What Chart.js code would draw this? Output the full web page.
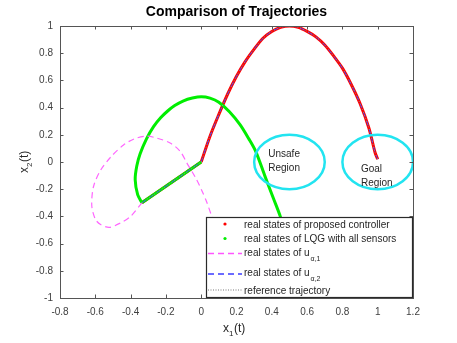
<!DOCTYPE html>
<html>
<head>
<meta charset="utf-8">
<script src="https://cdn.jsdelivr.net/npm/chart.js@4/dist/chart.umd.min.js"></script>
<style>
  html, body { margin: 0; padding: 0; background: #fff; }
  #wrap { width: 457px; height: 343px; }
</style>
</head>
<body>
<div id="wrap"><canvas id="traj"></canvas></div>
<script>
// axis ticks
const xTicks = [-0.8, -0.6, -0.4, -0.2, 0, 0.2, 0.4, 0.6, 0.8, 1, 1.2];
const yTicks = [-1, -0.8, -0.6, -0.4, -0.2, 0, 0.2, 0.4, 0.6, 0.8, 1];

// straight start: initial state -> origin
const startX = [-0.336, 0];
const startY = [-0.30, 0];

// proposed controller (and u_a,2 / reference) arc from origin to goal
const arcX = [0, 0.05, 0.1, 0.15, 0.2, 0.25, 0.3, 0.35, 0.4, 0.45, 0.5, 0.55, 0.6, 0.65, 0.7, 0.75, 0.8, 0.85, 0.9, 0.95, 0.985, 1.0];
const arcY = [0, 0.19, 0.35, 0.50, 0.63, 0.74, 0.83, 0.91, 0.96, 0.99, 1.0, 0.99, 0.96, 0.92, 0.86, 0.78, 0.69, 0.57, 0.43, 0.25, 0.07, 0.02];

// LQG with all sensors (after the initial corner)
const lqgX = [-0.336, -0.36, -0.374, -0.365, -0.346, -0.31, -0.27, -0.23, -0.19, -0.15, -0.10, -0.05, 0.0, 0.05, 0.10, 0.16, 0.22, 0.27, 0.31, 0.36, 0.41, 0.448, 0.48];
const lqgY = [-0.30, -0.24, -0.13, -0.03, 0.06, 0.17, 0.26, 0.325, 0.375, 0.415, 0.45, 0.47, 0.48, 0.47, 0.44, 0.37, 0.275, 0.17, 0.075, -0.10, -0.27, -0.40, -0.55];

// u_a,1 attack trajectory
const ua1X = [-0.336, -0.40, -0.46, -0.52, -0.57, -0.60, -0.62, -0.61, -0.57, -0.51, -0.44, -0.38, -0.31, -0.25, -0.176, -0.12, -0.08, -0.03, 0.0, 0.03, 0.06, 0.09];
const ua1Y = [-0.30, -0.40, -0.45, -0.48, -0.46, -0.42, -0.32, -0.18, -0.06, 0.04, 0.125, 0.17, 0.19, 0.175, 0.14, 0.08, -0.01, -0.12, -0.20, -0.29, -0.40, -0.50];

// regions (center x, center y, radius)
const regionNames = ["Unsafe", "Goal"];
const regionCx = [0.5, 1.0];
const regionCy = [0, 0];
const regionR = [0.2, 0.2];
const regionLabelX = [0.38, 0.905];
const regionLabelY = [0.06, -0.05];

const legendLabels = [
  "real states of proposed controller",
  "real states of LQG with all sensors",
  "real states of u",
  "real states of u",
  "reference trajectory"
];
const legendSubs = ["", "", "\u03B1,1", "\u03B1,2", ""];

const FONT = "'Liberation Sans', Arial, sans-serif";

function pts(xs, ys) {
  return xs.map((x, i) => ({ x: x, y: ys[i] }));
}

function line(data, color, width, dash, tension) {
  return {
    data: data,
    showLine: true,
    borderColor: color,
    backgroundColor: color,
    borderWidth: width,
    borderDash: dash || [],
    pointRadius: 0,
    tension: tension,
    fill: false,
  };
}

// first dataset is drawn on top in Chart.js, so list top-most first
const datasets = [
  line(pts(startX, startY), "#8c8c8c", 1, [1, 2], 0),
  line(pts(arcX, arcY), "#8c8c8c", 1, [1, 2], 0.3),
  line(pts(startX, startY), "#3b3bff", 1, [5, 4], 0),
  line(pts(arcX, arcY), "#3b3bff", 1, [5, 4], 0.3),
  line(pts(ua1X, ua1Y), "#ff66ff", 1.2, [6, 4], 0.3),
  line(pts(startX, startY), "#00ee00", 3, [], 0),
  line(pts(lqgX, lqgY), "#00ee00", 3, [], 0.3),
  line(pts(startX, startY), "#ff0000", 3, [], 0),
  line(pts(arcX, arcY), "#ff0000", 3, [], 0.3),
];

const decorPlugin = {
  id: "decor",
  afterDatasetsDraw(chart) {
    const ctx = chart.ctx;
    const xs = chart.scales.x, ys = chart.scales.y;
    const a = chart.chartArea;
    ctx.save();

    // regions
    ctx.beginPath();
    ctx.rect(a.left, a.top, a.right - a.left, a.bottom - a.top);
    ctx.clip();
    ctx.strokeStyle = "#22e4f0";
    ctx.lineWidth = 2.5;
    regionCx.forEach((cx, i) => {
      const px = xs.getPixelForValue(cx);
      const py = ys.getPixelForValue(regionCy[i]);
      const rx = xs.getPixelForValue(cx + regionR[i]) - px;
      const ry = py - ys.getPixelForValue(regionCy[i] + regionR[i]);
      ctx.beginPath();
      ctx.ellipse(px, py, rx, ry, 0, 0, Math.PI * 2);
      ctx.stroke();
    });
    ctx.restore();

    ctx.save();
    ctx.fillStyle = "#262626";
    ctx.font = "10px " + FONT;
    ctx.textBaseline = "middle";
    regionNames.forEach((n, i) => {
      const px = xs.getPixelForValue(regionLabelX[i]);
      const py = ys.getPixelForValue(regionLabelY[i]);
      ctx.fillText(n, px, py);
      ctx.fillText("Region", px, py + 14);
    });

    // box top/right and inward ticks
    ctx.strokeStyle = "#555";
    ctx.lineWidth = 1;
    ctx.beginPath();
    ctx.moveTo(a.left, a.top + 0.5);
    ctx.lineTo(a.right + 0.5, a.top + 0.5);
    ctx.lineTo(a.right + 0.5, a.bottom);
    ctx.stroke();
    ctx.beginPath();
    xTicks.forEach(v => {
      const px = Math.round(xs.getPixelForValue(v)) + 0.5;
      ctx.moveTo(px, a.bottom); ctx.lineTo(px, a.bottom - 3.5);
      ctx.moveTo(px, a.top); ctx.lineTo(px, a.top + 3.5);
    });
    yTicks.forEach(v => {
      const py = Math.round(ys.getPixelForValue(v)) + 0.5;
      ctx.moveTo(a.left, py); ctx.lineTo(a.left + 3.5, py);
      ctx.moveTo(a.right, py); ctx.lineTo(a.right - 3.5, py);
    });
    ctx.stroke();

    // legend box
    const lx = 206, ly = 217, lw = a.right - 206, lh = a.bottom - 217;
    ctx.fillStyle = "#fff";
    ctx.fillRect(lx, ly, lw, lh);
    ctx.strokeStyle = "#2a2a2a";
    ctx.lineWidth = 1.2;
    ctx.strokeRect(lx + 0.5, ly + 0.5, lw - 1, lh - 1);

    const rowY = [225, 239.5, 253.5, 273, 291];
    // markers / line samples
    ctx.fillStyle = "#ff0000";
    ctx.beginPath(); ctx.arc(225, rowY[0] - 1, 1.6, 0, Math.PI * 2); ctx.fill();
    ctx.fillStyle = "#00ee00";
    ctx.beginPath(); ctx.arc(225, rowY[1] - 1, 1.6, 0, Math.PI * 2); ctx.fill();
    ctx.lineWidth = 1.3;
    ctx.setLineDash([6, 4]);
    ctx.strokeStyle = "#ff55ff";
    ctx.beginPath(); ctx.moveTo(208, rowY[2]); ctx.lineTo(242, rowY[2]); ctx.stroke();
    ctx.strokeStyle = "#3b3bff";
    ctx.beginPath(); ctx.moveTo(208, rowY[3] + 1); ctx.lineTo(242, rowY[3] + 1); ctx.stroke();
    ctx.lineWidth = 1;
    ctx.setLineDash([1, 1.5]);
    ctx.strokeStyle = "#777";
    ctx.beginPath(); ctx.moveTo(208, rowY[4] - 1); ctx.lineTo(242, rowY[4] - 1); ctx.stroke();
    ctx.setLineDash([]);

    ctx.fillStyle = "#262626";
    ctx.textBaseline = "middle";
    legendLabels.forEach((t, i) => {
      ctx.font = "10px " + FONT;
      ctx.fillText(t, 244, rowY[i]);
      if (legendSubs[i]) {
        const w = ctx.measureText(t).width;
        ctx.font = "7px " + FONT;
        ctx.fillText(legendSubs[i], 244 + w + 1, rowY[i] + 6);
      }
    });

    // title
    ctx.fillStyle = "#000";
    ctx.font = "bold 14px " + FONT;
    ctx.textAlign = "center";
    ctx.fillText("Comparison of Trajectories", (a.left + a.right) / 2, 12);

    // x label
    ctx.fillStyle = "#262626";
    ctx.textAlign = "left";
    ctx.font = "12px " + FONT;
    const xl = 223, xy = 329;
    ctx.fillText("x", xl, xy);
    let w = ctx.measureText("x").width;
    ctx.font = "8px " + FONT;
    ctx.fillText("1", xl + w, xy + 5);
    let w2 = ctx.measureText("1").width;
    ctx.font = "12px " + FONT;
    ctx.fillText("(t)", xl + w + w2 + 0.5, xy);

    // y label (rotated)
    ctx.translate(25, 173);
    ctx.rotate(-Math.PI / 2);
    ctx.fillText("x", 0, 0);
    w = ctx.measureText("x").width;
    ctx.font = "8px " + FONT;
    ctx.fillText("2", w, 5);
    w2 = ctx.measureText("2").width;
    ctx.font = "12px " + FONT;
    ctx.fillText("(t)", w + w2 + 0.5, 0);
    ctx.restore();
  }
};

const fmt = v => String(Math.round(v * 10) / 10);

new Chart(document.getElementById("traj"), {
  type: "scatter",
  data: { datasets: datasets },
  options: {
    responsive: true,
    maintainAspectRatio: false,
    animation: false,
    events: [],
    layout: { padding: { left: 0, top: 26, right: 44, bottom: 0 } },
    plugins: {
      legend: { display: false },
      tooltip: { enabled: false },
      title: { display: false },
    },
    scales: {
      x: {
        type: "linear",
        min: -0.8,
        max: 1.2,
        afterBuildTicks: s => { s.ticks = xTicks.map(v => ({ value: v })); },
        afterFit: s => { s.height = 45; },
        ticks: {
          padding: 8,
          maxRotation: 0,
          autoSkip: false,
          color: "#404040",
          font: { family: FONT, size: 10 },
          callback: fmt,
        },
        grid: { display: false, drawTicks: false },
        border: { display: true, color: "#555", width: 1 },
      },
      y: {
        type: "linear",
        min: -1,
        max: 1,
        afterBuildTicks: s => { s.ticks = yTicks.map(v => ({ value: v })); },
        afterFit: s => { s.width = 60; },
        ticks: {
          padding: 7,
          autoSkip: false,
          color: "#404040",
          font: { family: FONT, size: 10 },
          callback: fmt,
        },
        grid: { display: false, drawTicks: false },
        border: { display: true, color: "#555", width: 1 },
      },
    },
  },
  plugins: [decorPlugin],
});
</script>
</body>
</html>
